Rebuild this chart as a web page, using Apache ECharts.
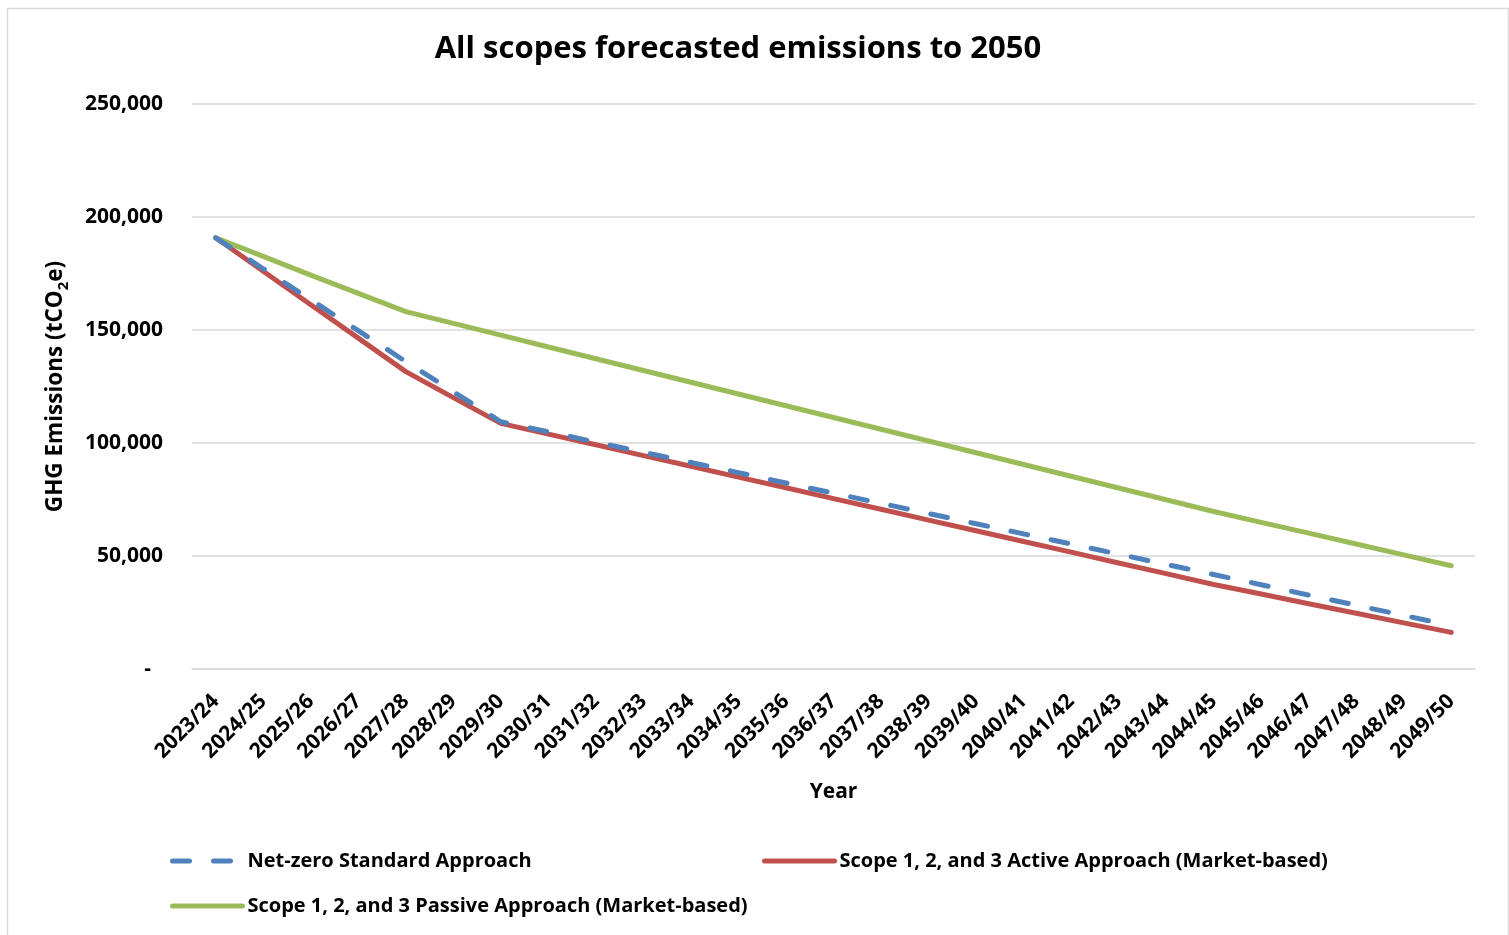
<!DOCTYPE html>
<html>
<head>
<meta charset="utf-8">
<title>All scopes forecasted emissions to 2050</title>
<script src="https://cdn.jsdelivr.net/npm/echarts@6/dist/echarts.min.js"></script>
<style>
  html, body { margin: 0; padding: 0; background: #ffffff; }
  #chart { width: 1509px; height: 935px; }
</style>
</head>
<body>
<div id="chart"></div>
<script>
// Financial years on the category axis
const years = [
  '2023/24', '2024/25', '2025/26', '2026/27', '2027/28', '2028/29', '2029/30',
  '2030/31', '2031/32', '2032/33', '2033/34', '2034/35', '2035/36', '2036/37',
  '2037/38', '2038/39', '2039/40', '2040/41', '2041/42', '2042/43', '2043/44',
  '2044/45', '2045/46', '2046/47', '2047/48', '2048/49', '2049/50'
];

// Emissions in tCO2e per year
const netZeroStandard = [
  190800, 177100, 163400, 149700, 136000, 122700, 109400,
  104900, 100400, 95900, 91400, 86900, 82300, 77800,
  73300, 68800, 64300, 59800, 55300, 50800, 46300,
  41800, 37300, 32700, 28200, 23700, 19200
];
const activeApproach = [
  190800, 176000, 161200, 146400, 131600, 120100, 108700,
  103900, 99200, 94400, 89700, 84900, 80200, 75400,
  70700, 65900, 61200, 56400, 51700, 46900, 42200,
  37400, 33200, 28900, 24700, 20400, 16200
];
const passiveApproach = [
  190800, 182600, 174300, 166200, 158100, 152900, 147700,
  142500, 137300, 132100, 126900, 121700, 116500, 111300,
  106100, 100900, 95700, 90500, 85300, 80100, 74900,
  69700, 64900, 60100, 55300, 50500, 45700
];

const seriesNames = [
  'Net-zero Standard Approach',
  'Scope 1, 2, and 3 Active Approach (Market-based)',
  'Scope 1, 2, and 3 Passive Approach (Market-based)'
];

// Value axis range
const yMin = 0;
const yMax = 250000;
const yStep = 50000;

const FONT = '"Open Sans", "Noto Sans", sans-serif';
const gridColor = '#d9d9d9';

const chart = echarts.init(document.getElementById('chart'), null, { renderer: 'canvas' });

const legendText = { color: '#000', fontFamily: FONT, fontWeight: 'bold', fontSize: 20, lineHeight: 24 };
const legendCommon = {
  orient: 'vertical',
  top: 844,
  itemWidth: 70, itemHeight: 10, itemGap: 21,
  textStyle: legendText,
  itemStyle: { opacity: 0 },
  lineStyle: { width: 5, cap: 'round' },
  selectedMode: false
};

chart.setOption({
  backgroundColor: '#ffffff',
  animation: false,
  graphic: [{
    type: 'rect',
    left: 5, top: 6,
    shape: { width: 1501, height: 940 },
    style: { fill: 'none', stroke: gridColor, lineWidth: 1.5 },
    silent: true, z: -1
  }],
  title: {
    text: 'All scopes forecasted emissions to 2050',
    left: 733, top: 29,
    textAlign: 'center',
    textStyle: { color: '#000', fontFamily: FONT, fontWeight: 'bold', fontSize: 31 }
  },
  grid: { left: 192, right: 34, top: 104, bottom: 266, containLabel: false },
  legend: [
    Object.assign({ left: 165, data: [seriesNames[0], seriesNames[2]] }, legendCommon),
    Object.assign({ left: 757, data: [seriesNames[1]] }, legendCommon)
  ],
  xAxis: {
    type: 'category',
    data: years,
    boundaryGap: true,
    name: 'Year',
    nameLocation: 'middle',
    nameGap: 113,
    nameTextStyle: { color: '#000', fontFamily: FONT, fontWeight: 'bold', fontSize: 21 },
    axisLine: { lineStyle: { color: gridColor, width: 1.5 } },
    axisTick: { show: false },
    axisLabel: {
      interval: 0, rotate: 45, margin: 29,
      color: '#000', fontFamily: FONT, fontWeight: 'bold', fontSize: 21
    }
  },
  yAxis: {
    type: 'value',
    min: yMin, max: yMax, interval: yStep,
    name: '{t|GHG Emissions (tCO}{s|2}{t|e)}',
    nameLocation: 'middle',
    nameGap: 121,
    nameRotate: 90,
    nameTextStyle: {
      rich: {
        t: { color: '#000', fontFamily: FONT, fontWeight: 'bold', fontSize: 22.5, lineHeight: 30, verticalAlign: 'middle' },
        s: { color: '#000', fontFamily: FONT, fontWeight: 'bold', fontSize: 15, lineHeight: 12, verticalAlign: 'bottom' }
      }
    },
    axisLine: { show: false },
    axisTick: { show: false },
    splitLine: { lineStyle: { color: gridColor, width: 1.5 } },
    axisLabel: {
      margin: 29,
      color: '#000', fontFamily: FONT, fontWeight: 'bold', fontSize: 21,
      formatter: v => v === 0 ? '{d|-}' : v.toLocaleString('en-US'),
      rich: { d: { color: '#000', fontFamily: FONT, fontWeight: 'bold', fontSize: 21, padding: [0, 12, 0, 0] } }
    }
  },
  series: [
    {
      name: seriesNames[0], type: 'line', data: netZeroStandard,
      symbol: 'none', z: 3,
      color: '#4f81bd',
      lineStyle: { color: '#4f81bd', width: 5, type: [17, 24], cap: 'round', join: 'round' }
    },
    {
      name: seriesNames[1], type: 'line', data: activeApproach,
      symbol: 'none', z: 2,
      color: '#c0504d',
      lineStyle: { color: '#c0504d', width: 5, cap: 'round', join: 'round' }
    },
    {
      name: seriesNames[2], type: 'line', data: passiveApproach,
      symbol: 'none', z: 2,
      color: '#9bbb59',
      lineStyle: { color: '#9bbb59', width: 5, cap: 'round', join: 'round' }
    }
  ]
});
</script>
</body>
</html>
